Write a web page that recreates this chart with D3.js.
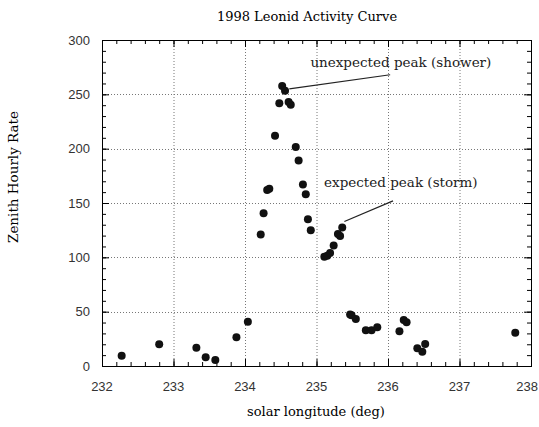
<!DOCTYPE html>
<html><head><meta charset="utf-8">
<script src="https://cdn.jsdelivr.net/npm/d3@7"></script>
<style>body{margin:0;background:#fff}svg{display:block}</style>
</head><body>
<svg id="c" width="539" height="427"></svg>
<script>
const solarLongitude = [232.275,232.80,233.32,233.45,233.585,233.88,234.04,
  234.22,234.26,234.31,234.34,234.42,234.48,234.52,234.56,234.61,234.64,234.71,234.75,234.81,234.85,234.88,234.92,
  235.11,235.15,235.19,235.24,235.30,235.33,235.36,
  235.47,235.49,235.55,235.69,235.77,235.85,236.16,236.22,236.26,236.41,236.48,236.52,237.78];
const zhr = [9.5,20,16.8,8,5.5,26.4,40.8,
  121,140.5,162,163,212,241.7,257.7,253.3,243,240.5,201.5,189,167,158,135,125,
  100.6,101.5,104,111,121.5,119.6,127.5,
  47.5,46.6,43.2,33,33,35.6,31.9,42.3,40.2,16.3,13.2,20.2,30.7];
const xTicks = [232,233,234,235,236,237,238];
const yTicks = [0,50,100,150,200,250,300];
const annotations = [
  {text:"unexpected peak (shower)", tx:236.18, ty:275, x1:234.62, y1:255, x2:236.03, y2:268},
  {text:"expected peak (storm)", tx:236.18, ty:165, x1:235.39, y1:133, x2:236.07, y2:152}
];

const svg = d3.select("#c");
const L=102, R=531, T=40, B=366;
const x = d3.scaleLinear().domain([232,238]).range([L,R]);
const y = d3.scaleLinear().domain([0,300]).range([B,T]);
const serif = "'DejaVu Serif','Liberation Serif',serif";
const sans = "'Liberation Sans',Arial,sans-serif";

// grid
const g = svg.append("g");
g.selectAll(".gx").data(xTicks.slice(1,-1)).enter().append("line")
  .attr("x1",d=>x(d)+0.5).attr("x2",d=>x(d)+0.5).attr("y1",T).attr("y2",B)
  .attr("stroke","#777").attr("stroke-dasharray","1,2");
g.selectAll(".gy").data(yTicks.slice(1,-1)).enter().append("line")
  .attr("y1",d=>Math.round(y(d))+0.5).attr("y2",d=>Math.round(y(d))+0.5).attr("x1",L).attr("x2",R)
  .attr("stroke","#777").attr("stroke-dasharray","1,2");

// frame
svg.append("rect").attr("x",L+0.5).attr("y",T+0.5).attr("width",R-L).attr("height",B-T)
  .attr("fill","none").attr("stroke","#000");

// ticks via axes
const xMinor = d3.range(232,238.001,0.2);
const yMinor = d3.range(0,300.001,10);
function tickAxes(axisFn, scale, vals, size, transform){
  svg.append("g").attr("transform",transform)
    .call(axisFn(scale).tickValues(vals).tickSize(size).tickFormat(""))
    .call(s=>s.select(".domain").remove())
    .call(s=>s.selectAll("line").attr("stroke","#000"));
}
tickAxes(d3.axisTop, x, xMinor, 4, `translate(0,${B})`);
tickAxes(d3.axisTop, x, xTicks, 7, `translate(0,${B})`);
tickAxes(d3.axisBottom, x, xMinor, 4, `translate(0,${T})`);
tickAxes(d3.axisBottom, x, xTicks, 7, `translate(0,${T})`);
tickAxes(d3.axisRight, y, yMinor, 4, `translate(${L},0)`);
tickAxes(d3.axisRight, y, yTicks, 7, `translate(${L},0)`);
tickAxes(d3.axisLeft, y, yMinor, 4, `translate(${R},0)`);
tickAxes(d3.axisLeft, y, yTicks, 7, `translate(${R},0)`);

// tick labels
svg.append("g").selectAll("text").data(xTicks).enter().append("text")
  .attr("x",d=>d===238 ? 538 : x(d)).attr("y",391).attr("text-anchor",d=>d===238?"end":"middle")
  .attr("font-family",sans).attr("font-size",13).attr("fill","#333").text(d=>d);
svg.append("g").selectAll("text").data(yTicks).enter().append("text")
  .attr("x",90).attr("y",d=>y(d)+4.5).attr("text-anchor","end")
  .attr("font-family",sans).attr("font-size",13).attr("fill","#333").text(d=>d);

// titles
svg.append("text").attr("x",307).attr("y",21).attr("text-anchor","middle")
  .attr("font-family",serif).attr("font-size",13).text("1998 Leonid Activity Curve");
svg.append("text").attr("x",316).attr("y",416).attr("text-anchor","middle")
  .attr("font-family",serif).attr("font-size",13).text("solar longitude  (deg)");
svg.append("text").attr("transform","translate(18,177) rotate(-90)").attr("text-anchor","middle")
  .attr("font-family",serif).attr("font-size",13.5).text("Zenith Hourly Rate");

// annotations
const ann = svg.append("g");
annotations.forEach(a=>{
  ann.append("line").attr("x1",x(a.x1)).attr("y1",y(a.y1)).attr("x2",x(a.x2)).attr("y2",y(a.y2))
    .attr("stroke","#222").attr("stroke-width",1.2);
  ann.append("text").attr("x",x(a.tx)).attr("y",y(a.ty)).attr("text-anchor","middle")
    .attr("font-family",serif).attr("font-size",13.5).attr("fill","#222").text(a.text);
});

// points
svg.append("g").selectAll("circle").data(zhr).enter().append("circle")
  .attr("cx",(d,i)=>x(solarLongitude[i])).attr("cy",d=>y(d)).attr("r",4).attr("fill","#111");
</script>
</body></html>
